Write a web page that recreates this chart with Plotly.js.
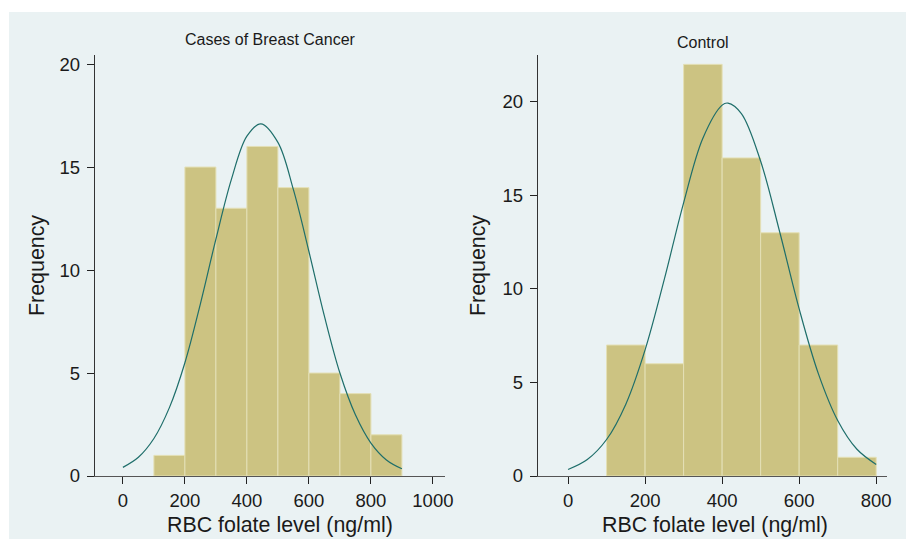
<!DOCTYPE html>
<html>
<head>
<meta charset="utf-8">
<script src="https://cdn.plot.ly/plotly-3.0.1.min.js"></script>
<style>html,body{margin:0;padding:0;background:#fff;}#chart{width:906px;height:539px;}</style>
</head>
<body>
<div id="chart"></div>
<script>
// Histogram bins (lower edge, ng/ml) and counts
var casesBinStart = [100, 200, 300, 400, 500, 600, 700, 800];
var casesCounts   = [1, 15, 13, 16, 14, 5, 4, 2];
var controlBinStart = [100, 200, 300, 400, 500, 600, 700];
var controlCounts   = [7, 6, 22, 17, 13, 7, 1];

// Overlaid normal curves
var casesCurveX = [0, 50, 100, 150, 200, 250, 300, 350, 400, 445, 500, 550, 600, 650, 700, 750, 800, 850, 900];
var casesCurveY = [0.42, 0.91, 1.82, 3.32, 5.5, 8.36, 11.5, 14.4, 16.5, 17.1, 16.2, 13.9, 10.9, 7.76, 5.0, 2.97, 1.6, 0.78, 0.35];
var controlCurveX = [0, 50, 100, 150, 200, 250, 300, 350, 400, 415, 450, 500, 550, 600, 650, 700, 750, 800];
var controlCurveY = [0.35, 0.88, 1.95, 3.84, 6.74, 10.52, 14.6, 18.05, 19.82, 19.93, 19.37, 16.82, 13.0, 8.93, 5.46, 2.97, 1.43, 0.62];

var xTicks = [0, 200, 400, 600, 800, 1000];
var xTicksControl = [0, 200, 400, 600, 800];
var yTicks = [0, 5, 10, 15, 20];

var titleLeft = "Cases of Breast Cancer";
var titleRight = "Control";
var xTitle = "RBC folate level (ng/ml)";
var yTitle = "Frequency";

var W = 906, H = 539;
function px(x){ return x / W; }
function py(y){ return 1 - y / H; }

var barStyle = {color: '#CCC382', line: {color: '#E4E0B6', width: 1}};
var curveStyle = {color: '#1E6E6A', width: 1.2, shape: 'spline'};

var data = [
  {type: 'bar', x: casesBinStart, y: casesCounts, width: 100, offset: 0, marker: barStyle, xaxis: 'x', yaxis: 'y', hoverinfo: 'x+y'},
  {type: 'scatter', mode: 'lines', x: casesCurveX, y: casesCurveY, line: curveStyle, xaxis: 'x', yaxis: 'y'},
  {type: 'bar', x: controlBinStart, y: controlCounts, width: 100, offset: 0, marker: barStyle, xaxis: 'x2', yaxis: 'y2', hoverinfo: 'x+y'},
  {type: 'scatter', mode: 'lines', x: controlCurveX, y: controlCurveY, line: curveStyle, xaxis: 'x2', yaxis: 'y2'}
];

var fam = 'Liberation Sans, Arial, Helvetica, sans-serif';
var tickFont = {family: fam, size: 18.5, color: '#1a1a1a'};
function xa(domain, range, ticks){
  return {domain: domain, range: range, tickvals: ticks, ticktext: ticks.map(String),
    showline: true, linecolor: '#555', linewidth: 1.2, ticks: 'outside', ticklen: 7, tickcolor: '#222', tickwidth: 1,
    ticklabelstandoff: 1,
    showgrid: false, zeroline: false, tickfont: tickFont, fixedrange: true};
}
function ya(domain, range, anchor){
  return {domain: domain, range: range, tickvals: yTicks, ticktext: yTicks.map(String), anchor: anchor,
    showline: true, linecolor: '#333', linewidth: 1.2, ticks: 'outside', ticklen: 7, tickcolor: '#222', tickwidth: 1,
    ticklabelstandoff: 3,
    showgrid: true, gridcolor: '#EAF2F3', gridwidth: 1, zeroline: false, tickfont: tickFont, fixedrange: true};
}

var yDom = [py(476), py(55)];
var layout = {
  width: W, height: H,
  margin: {l: 0, r: 0, t: 0, b: 0},
  paper_bgcolor: '#ffffff',
  plot_bgcolor: '#ffffff',
  showlegend: false,
  bargap: 0,
  font: {family: fam, size: 16, color: '#1a1a1a'},
  xaxis: Object.assign(xa([px(95), px(445)], [-90, 1039], xTicks), {anchor: 'y'}),
  yaxis: ya(yDom, [0, 20.44], 'x'),
  xaxis2: Object.assign(xa([px(538), px(887)], [-78, 828], xTicksControl), {anchor: 'y2'}),
  yaxis2: ya(yDom, [0, 22.5], 'x2'),
  shapes: [
    {type: 'rect', xref: 'paper', yref: 'paper', x0: px(9), x1: 1, y0: 0, y1: py(12), fillcolor: '#EAF2F3', line: {width: 0}, layer: 'below'}
  ],
  annotations: [
    {text: titleLeft, xref: 'paper', yref: 'paper', x: px(270), y: py(39), showarrow: false, xanchor: 'center', yanchor: 'middle', font: {family: fam, size: 16, color: '#1a1a1a'}},
    {text: titleRight, xref: 'paper', yref: 'paper', x: px(703), y: py(42), showarrow: false, xanchor: 'center', yanchor: 'middle', font: {family: fam, size: 16, color: '#1a1a1a'}},
    {text: xTitle, xref: 'paper', yref: 'paper', x: px(280), y: py(525), showarrow: false, xanchor: 'center', yanchor: 'middle', font: {family: fam, size: 21.4, color: '#1a1a1a'}},
    {text: xTitle, xref: 'paper', yref: 'paper', x: px(715), y: py(525), showarrow: false, xanchor: 'center', yanchor: 'middle', font: {family: fam, size: 21.4, color: '#1a1a1a'}},
    {text: yTitle, xref: 'paper', yref: 'paper', x: px(37), y: py(266), showarrow: false, textangle: -90, xanchor: 'center', yanchor: 'middle', font: {family: fam, size: 21.4, color: '#1a1a1a'}},
    {text: yTitle, xref: 'paper', yref: 'paper', x: px(478), y: py(266), showarrow: false, textangle: -90, xanchor: 'center', yanchor: 'middle', font: {family: fam, size: 21.4, color: '#1a1a1a'}}
  ]
};

Plotly.newPlot('chart', data, layout, {displayModeBar: false, staticPlot: true});
</script>
</body>
</html>
